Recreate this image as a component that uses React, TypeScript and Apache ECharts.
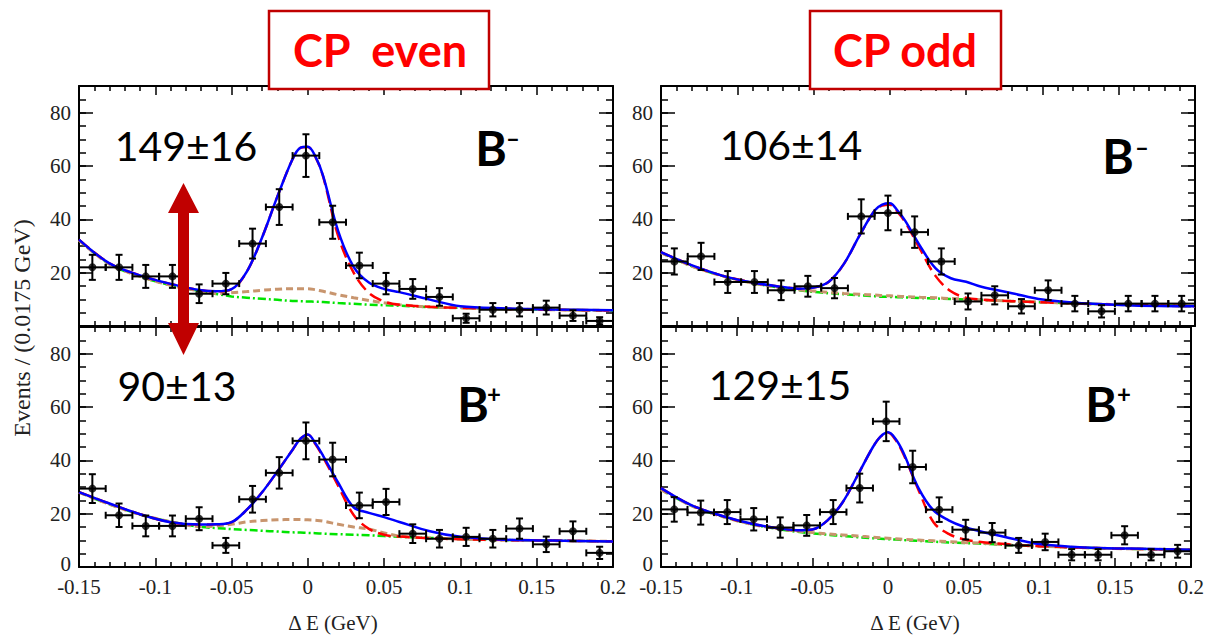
import React, { useEffect, useRef } from 'react';
import * as echarts from 'echarts';

// ---- Data ----
const BIN_CENTERS = [-0.14125, -0.12375, -0.10625, -0.08875, -0.07125, -0.05375, -0.03625, -0.01875, -0.00125, 0.01625, 0.03375, 0.05125, 0.06875, 0.08625, 0.10375, 0.12125, 0.13875, 0.15625, 0.17375, 0.19125];
const BIN_HALF_WIDTH = 0.00875;

// CP even, B-
const EVEN_BM_COUNTS = [22.0, 22.0, 18.6, 18.6, 12.1, 15.9, 30.9, 44.6, 63.9, 38.9, 22.7, 15.9, 13.9, 10.9, 2.9, 6.1, 6.1, 6.9, 3.9, 1.9];
const EVEN_BM_ERRORS = [4.7, 4.7, 4.3, 4.3, 3.5, 4.0, 5.6, 6.7, 8.0, 6.2, 4.8, 4.0, 3.7, 3.3, 1.7, 2.5, 2.5, 2.6, 2.0, 1.4];
// CP even, B+
const EVEN_BP_COUNTS = [29.4, 19.4, 15.4, 15.4, 18.1, 8.1, 25.4, 35.3, 47.3, 40.3, 23.1, 24.4, 12.5, 10.6, 11.3, 10.6, 14.4, 8.5, 13.4, 5.3];
const EVEN_BP_ERRORS = [5.4, 4.4, 3.9, 3.9, 4.3, 2.8, 5.0, 5.9, 6.9, 6.3, 4.8, 4.9, 3.5, 3.3, 3.4, 3.3, 3.8, 2.9, 3.7, 2.3];
// CP odd, B-
const ODD_BM_COUNTS = [24.2, 26.1, 16.5, 16.5, 13.4, 14.9, 14.2, 41.1, 42.4, 35.2, 24.2, 9.2, 11.5, 7.4, 13.4, 8.4, 5.5, 8.4, 8.4, 8.4];
const ODD_BM_ERRORS = [4.9, 5.1, 4.1, 4.1, 3.7, 3.9, 3.8, 6.4, 6.5, 5.9, 4.9, 3.0, 3.4, 2.7, 3.7, 2.9, 2.3, 2.9, 2.9, 2.9];
// CP odd, B+
const ODD_BP_COUNTS = [21.6, 20.4, 20.6, 17.9, 14.8, 15.6, 20.6, 29.6, 54.6, 37.5, 21.5, 14.0, 12.9, 8.1, 9.4, 4.6, 4.6, 11.9, 4.6, 5.9];
const ODD_BP_ERRORS = [4.6, 4.5, 4.5, 4.2, 3.8, 3.9, 4.5, 5.4, 7.4, 6.1, 4.6, 3.7, 3.6, 2.8, 3.1, 2.1, 2.1, 3.4, 2.1, 2.4];

// Fit curves sampled at these ΔE values
const CURVE_X = [-0.15, -0.13, -0.11, -0.09, -0.07, -0.06, -0.05, -0.04, -0.03, -0.02, -0.01, -0.005, 0, 0.005, 0.01, 0.02, 0.03, 0.04, 0.05, 0.06, 0.08, 0.1, 0.13, 0.16, 0.2];

const EVEN_BM_TOTAL = [32.4, 23.5, 19.0, 15.8, 13.4, 13.0, 13.8, 20.4, 33.2, 48.5, 62.6, 66.8, 67.2, 63.5, 56.3, 35.4, 22.2, 16.3, 13.9, 12.7, 9.9, 7.4, 6.6, 6.2, 5.9];
const EVEN_BM_SIGNAL = [32.4, 23.5, 19.0, 15.8, 13.4, 13.0, 13.8, 20.4, 33.2, 48.5, 62.6, 66.8, 67.1, 63.3, 56.0, 33.5, 20.0, 12.4, 9.2, 8.0, 7.2, 6.8, 6.4, 6.1, 5.8];
const EVEN_BM_PEAKING = [32.2, 23.2, 18.6, 15.3, 13.0, 12.2, 12.5, 12.9, 13.4, 13.8, 14.0, 14.0, 14.0, 13.6, 13.0, 11.7, 10.6, 9.6, 8.7, 8.0, 7.1, 6.8, 6.4, 6.1, 5.8];
const EVEN_BM_COMB = [32.2, 23.2, 18.6, 15.3, 13.0, 12.0, 11.1, 10.6, 10.2, 9.8, 9.4, 9.3, 9.2, 9.1, 9.0, 8.6, 8.3, 8.0, 7.8, 7.6, 7.1, 6.8, 6.4, 6.1, 5.8];

const EVEN_BP_TOTAL = [28.1, 23.8, 19.8, 16.8, 15.9, 16.0, 16.8, 21.5, 28.0, 35.8, 44.0, 48.0, 49.7, 46.3, 41.7, 31.5, 22.4, 20.3, 18.7, 16.9, 13.4, 11.3, 10.2, 9.9, 9.6];
const EVEN_BP_SIGNAL = [28.1, 23.8, 19.8, 16.8, 15.9, 16.0, 16.8, 21.5, 28.0, 35.8, 44.0, 48.0, 49.6, 46.0, 41.2, 30.3, 19.5, 14.3, 12.1, 11.4, 10.8, 10.4, 10.1, 9.9, 9.6];
const EVEN_BP_PEAKING = [28.0, 23.5, 19.7, 17.0, 15.2, 15.4, 16.0, 16.9, 17.4, 17.7, 17.8, 17.8, 17.7, 17.5, 17.2, 16.0, 15.0, 14.2, 12.8, 11.6, 10.9, 10.5, 10.1, 9.9, 9.6];
const EVEN_BP_COMB = [28.0, 23.5, 19.7, 17.0, 15.0, 14.6, 14.2, 13.9, 13.6, 13.3, 13.0, 12.9, 12.8, 12.7, 12.5, 12.3, 12.1, 11.9, 11.6, 11.3, 10.9, 10.5, 10.1, 9.9, 9.6];

const ODD_BM_TOTAL = [27.7, 22.8, 18.9, 16.3, 14.6, 14.0, 14.4, 16.6, 23.4, 33.8, 43.3, 45.5, 46.0, 43.3, 39.5, 29.8, 21.6, 17.9, 16.6, 14.7, 12.3, 9.9, 8.4, 7.7, 7.4];
const ODD_BM_SIGNAL = [27.7, 22.8, 18.9, 16.3, 14.6, 14.0, 14.4, 16.6, 23.4, 33.8, 43.2, 45.2, 45.5, 42.8, 39.0, 28.6, 18.7, 13.0, 10.6, 9.9, 9.3, 8.9, 8.3, 7.9, 7.4];
const ODD_BM_PEAKING = [27.5, 22.5, 18.8, 16.1, 14.3, 13.6, 13.1, 12.6, 12.2, 11.9, 11.6, 11.4, 11.3, 11.2, 11.0, 10.8, 10.6, 10.3, 10.1, 9.8, 9.3, 8.9, 8.3, 7.9, 7.4];
const ODD_BM_COMB = [27.5, 22.5, 18.8, 16.1, 14.2, 13.4, 12.8, 12.3, 11.9, 11.5, 11.2, 11.0, 10.9, 10.8, 10.7, 10.5, 10.3, 10.1, 9.9, 9.7, 9.3, 8.9, 8.3, 7.9, 7.4];

const ODD_BP_TOTAL = [29.6, 23.2, 19.2, 16.2, 14.3, 13.8, 14.1, 17.5, 24.3, 34.5, 45.0, 48.9, 50.5, 48.0, 43.0, 29.7, 21.2, 17.5, 15.1, 13.5, 10.9, 8.6, 7.3, 6.9, 6.5];
const ODD_BP_SIGNAL = [29.6, 23.2, 19.2, 16.2, 14.3, 13.8, 14.1, 17.5, 24.3, 34.5, 45.0, 48.9, 50.3, 47.6, 42.5, 29.0, 16.8, 12.4, 10.4, 9.5, 8.5, 7.8, 7.2, 6.8, 6.5];
const ODD_BP_PEAKING = [29.0, 23.0, 19.0, 16.0, 14.2, 13.5, 12.9, 12.4, 12.0, 11.6, 11.2, 11.0, 10.8, 10.6, 10.4, 10.1, 9.8, 9.5, 9.2, 9.0, 8.3, 7.8, 7.2, 6.8, 6.5];
const ODD_BP_COMB = [29.0, 23.0, 19.0, 16.0, 14.0, 13.2, 12.6, 12.1, 11.6, 11.2, 10.8, 10.6, 10.4, 10.3, 10.1, 9.8, 9.5, 9.2, 9.0, 8.8, 8.2, 7.8, 7.2, 6.8, 6.5];

const YIELD_LABELS = ['149±16', '90±13', '106±14', '129±15'];
const CHARGE_SIGNS = ['-', '+', '-', '+'];
const COLUMN_TITLES = ['CP  even', 'CP odd'];
const X_TITLE = 'Δ E (GeV)';
const Y_TITLE = 'Events / (0.0175 GeV)';

// ---- Layout / style ----
const SERIF = '"Liberation Serif", "DejaVu Serif", serif';
const SANS = 'Lato, "Open Sans", sans-serif';
const PLOT_W = 534;
const PLOT_H = 240;
const LAYOUT = [
  { left: 79, top: 86, upper: true },
  { left: 79, top: 327, upper: false },
  { left: 661, top: 86, upper: true },
  { left: 661, top: 327, upper: false },
];
const PANELS = [
  { counts: EVEN_BM_COUNTS, errors: EVEN_BM_ERRORS, total: EVEN_BM_TOTAL, signal: EVEN_BM_SIGNAL, peaking: EVEN_BM_PEAKING, comb: EVEN_BM_COMB },
  { counts: EVEN_BP_COUNTS, errors: EVEN_BP_ERRORS, total: EVEN_BP_TOTAL, signal: EVEN_BP_SIGNAL, peaking: EVEN_BP_PEAKING, comb: EVEN_BP_COMB },
  { counts: ODD_BM_COUNTS, errors: ODD_BM_ERRORS, total: ODD_BM_TOTAL, signal: ODD_BM_SIGNAL, peaking: ODD_BM_PEAKING, comb: ODD_BM_COMB },
  { counts: ODD_BP_COUNTS, errors: ODD_BP_ERRORS, total: ODD_BP_TOTAL, signal: ODD_BP_SIGNAL, peaking: ODD_BP_PEAKING, comb: ODD_BP_COMB },
];

function curve(values: number[]) {
  return CURVE_X.map((x, i) => [x, values[i]]);
}

function buildOption() {
  const grid: any[] = [];
  const xAxis: any[] = [];
  const yAxis: any[] = [];
  const series: any[] = [];
  const lineStyle = { color: '#000', width: 2 };
  const tickStyle = { color: '#000', width: 1.5 };
  const labelStyle = { fontFamily: SERIF, fontSize: 21, color: '#222', lineHeight: 16 };

  PANELS.forEach((p, g) => {
    const L = LAYOUT[g];
    grid.push({ left: L.left, top: L.top, width: PLOT_W, height: PLOT_H });
    const xBase = {
      type: 'value', gridIndex: g, min: -0.15, max: 0.2, interval: 0.05,
      splitLine: { show: false },
      axisLine: { show: true, onZero: false, lineStyle },
      axisTick: { show: true, inside: true, length: 9, lineStyle: tickStyle },
      minorTick: { show: true, splitNumber: 5, length: 5, lineStyle: tickStyle },
      minorSplitLine: { show: false },
    };
    xAxis.push({
      ...xBase, position: 'bottom',
      axisLabel: { show: !L.upper, margin: 12, ...labelStyle, formatter: (v: number) => String(+v.toFixed(3)) },
    });
    xAxis.push({ ...xBase, position: 'top', axisLabel: { show: false } });

    const yMajor = {
      type: 'value', gridIndex: g, min: 0, max: 90, interval: 20,
      splitLine: { show: false },
      axisLine: { show: true, onZero: false, lineStyle },
      axisTick: { show: true, inside: true, length: 14, lineStyle: tickStyle },
    };
    const yMinor = {
      type: 'value', gridIndex: g, min: 0, max: 90, interval: 5,
      splitLine: { show: false },
      axisLine: { show: false, onZero: false },
      axisLabel: { show: false },
      axisTick: { show: true, inside: true, length: 7, lineStyle: tickStyle },
    };
    yAxis.push({
      ...yMajor, position: 'left',
      axisLabel: {
        show: true, margin: 8, ...labelStyle,
        formatter: (v: number) => (v === 90 || (L.upper && v === 0) ? '' : v === 0 ? '{zero|0}' : String(v)),
        rich: { zero: { fontFamily: SERIF, fontSize: 21, color: '#222', padding: [0, 0, 6, 0] } },
      },
    });
    yAxis.push({ ...yMinor, position: 'left' });
    yAxis.push({ ...yMajor, position: 'right', axisLabel: { show: false } });
    yAxis.push({ ...yMinor, position: 'right' });

    const xi = 2 * g;
    const yi = 4 * g;
    const common = { xAxisIndex: xi, yAxisIndex: yi, symbol: 'none', smooth: 0.35, silent: true };
    series.push({ ...common, type: 'line', z: 2, data: curve(p.comb), lineStyle: { color: '#00e400', width: 2.5, type: [8, 3, 2, 3] } });
    series.push({ ...common, type: 'line', z: 3, data: curve(p.peaking), lineStyle: { color: '#c8956e', width: 3, type: [7, 4] } });
    series.push({ ...common, type: 'line', z: 4, data: curve(p.signal), lineStyle: { color: '#ff0000', width: 2.5, type: [13, 6] } });
    series.push({ ...common, type: 'line', z: 5, data: curve(p.total), lineStyle: { color: '#0000ff', width: 2.5 } });

    series.push({
      type: 'custom', xAxisIndex: xi, yAxisIndex: yi, z: 6, silent: true,
      data: BIN_CENTERS.map((x, i) => [x, p.counts[i], p.errors[i]]),
      renderItem: (_params: any, api: any) => {
        const x = api.value(0);
        const y = api.value(1);
        const e = api.value(2);
        const c = api.coord([x, y]);
        const l = api.coord([x - BIN_HALF_WIDTH, y]);
        const r = api.coord([x + BIN_HALF_WIDTH, y]);
        const t = api.coord([x, y + e]);
        const b = api.coord([x, Math.max(0, y - e)]);
        const cap = 3.5;
        const st = { stroke: '#000', lineWidth: 2 };
        const ln = (x1: number, y1: number, x2: number, y2: number) => ({ type: 'line', shape: { x1, y1, x2, y2 }, style: st });
        return {
          type: 'group',
          children: [
            ln(l[0], l[1], r[0], r[1]),
            ln(c[0], t[1], c[0], b[1]),
            ln(l[0], l[1] - cap, l[0], l[1] + cap),
            ln(r[0], r[1] - cap, r[0], r[1] + cap),
            ln(c[0] - cap, t[1], c[0] + cap, t[1]),
            ln(c[0] - cap, b[1], c[0] + cap, b[1]),
          ],
        };
      },
    });
    series.push({
      type: 'scatter', xAxisIndex: xi, yAxisIndex: yi, z: 7, silent: true,
      symbol: 'circle', symbolSize: 8, itemStyle: { color: '#000' },
      data: BIN_CENTERS.map((x, i) => [x, p.counts[i]]),
    });
  });

  const yieldPos = [[186, 145], [177, 385], [791, 144], [780, 384]];
  const bPos = [[491, 147], [473, 403], [1118, 155], [1101, 403]];
  const supPos = [[513, 137], [494, 393], [1142, 146], [1124, 393]];

  const graphic: any[] = [];
  YIELD_LABELS.forEach((t, i) => {
    graphic.push({ type: 'text', x: yieldPos[i][0], y: yieldPos[i][1], z: 100,
      style: { text: t, fontFamily: SANS, fontSize: 41, fill: '#000', align: 'center', verticalAlign: 'middle' } });
    graphic.push({ type: 'text', x: bPos[i][0], y: bPos[i][1], z: 100,
      style: { text: 'B', fontFamily: SANS, fontWeight: 'bold', fontSize: 48, fill: '#000', align: 'center', verticalAlign: 'middle' } });
    graphic.push({ type: 'text', x: supPos[i][0], y: supPos[i][1], z: 100,
      style: { text: CHARGE_SIGNS[i] === '-' ? '–' : '+', fontFamily: SANS, fontWeight: 'bold', fontSize: 24, fill: '#000', align: 'center', verticalAlign: 'middle' } });
  });

  const boxes = [
    { x: 269, w: 220, cx: 380 },
    { x: 810, w: 191, cx: 905 },
  ];
  boxes.forEach((b, i) => {
    graphic.push({ type: 'rect', z: 90, shape: { x: b.x, y: 11, width: b.w, height: 78 },
      style: { fill: '#fff', stroke: '#c00000', lineWidth: 2.5 } });
    graphic.push({ type: 'text', z: 91, x: b.cx, y: 50,
      style: { text: COLUMN_TITLES[i], fontFamily: SANS, fontWeight: 'bold', fontSize: 45, fill: '#ff0000', align: 'center', verticalAlign: 'middle' } });
  });

  graphic.push({
    type: 'polygon', z: 95,
    shape: { points: [[183.5, 183], [199, 213], [189, 213], [189, 323], [199, 323], [183.5, 355], [168, 323], [178, 323], [178, 213], [168, 213]] },
    style: { fill: '#c00000' },
  });

  [333, 915].forEach((cx) => {
    graphic.push({ type: 'text', x: cx, y: 623, z: 100,
      style: { text: X_TITLE, fontFamily: SERIF, fontSize: 21, fill: '#222', align: 'center', verticalAlign: 'middle' } });
  });
  graphic.push({ type: 'text', x: 22, y: 328, z: 100, rotation: Math.PI / 2,
    style: { text: Y_TITLE, fontFamily: SERIF, fontSize: 24, fill: '#222', align: 'center', verticalAlign: 'middle' } });

  return {
    animation: false,
    backgroundColor: '#fff',
    grid, xAxis, yAxis, series, graphic,
  };
}

export default function App() {
  const ref = useRef<HTMLDivElement>(null);
  useEffect(() => {
    if (!ref.current) return;
    const chart = echarts.init(ref.current, undefined, { renderer: 'svg' });
    chart.setOption(buildOption() as any);
    return () => chart.dispose();
  }, []);
  return <div ref={ref} style={{ position: 'absolute', left: 0, top: 0, width: 1207, height: 635 }} />;
}
